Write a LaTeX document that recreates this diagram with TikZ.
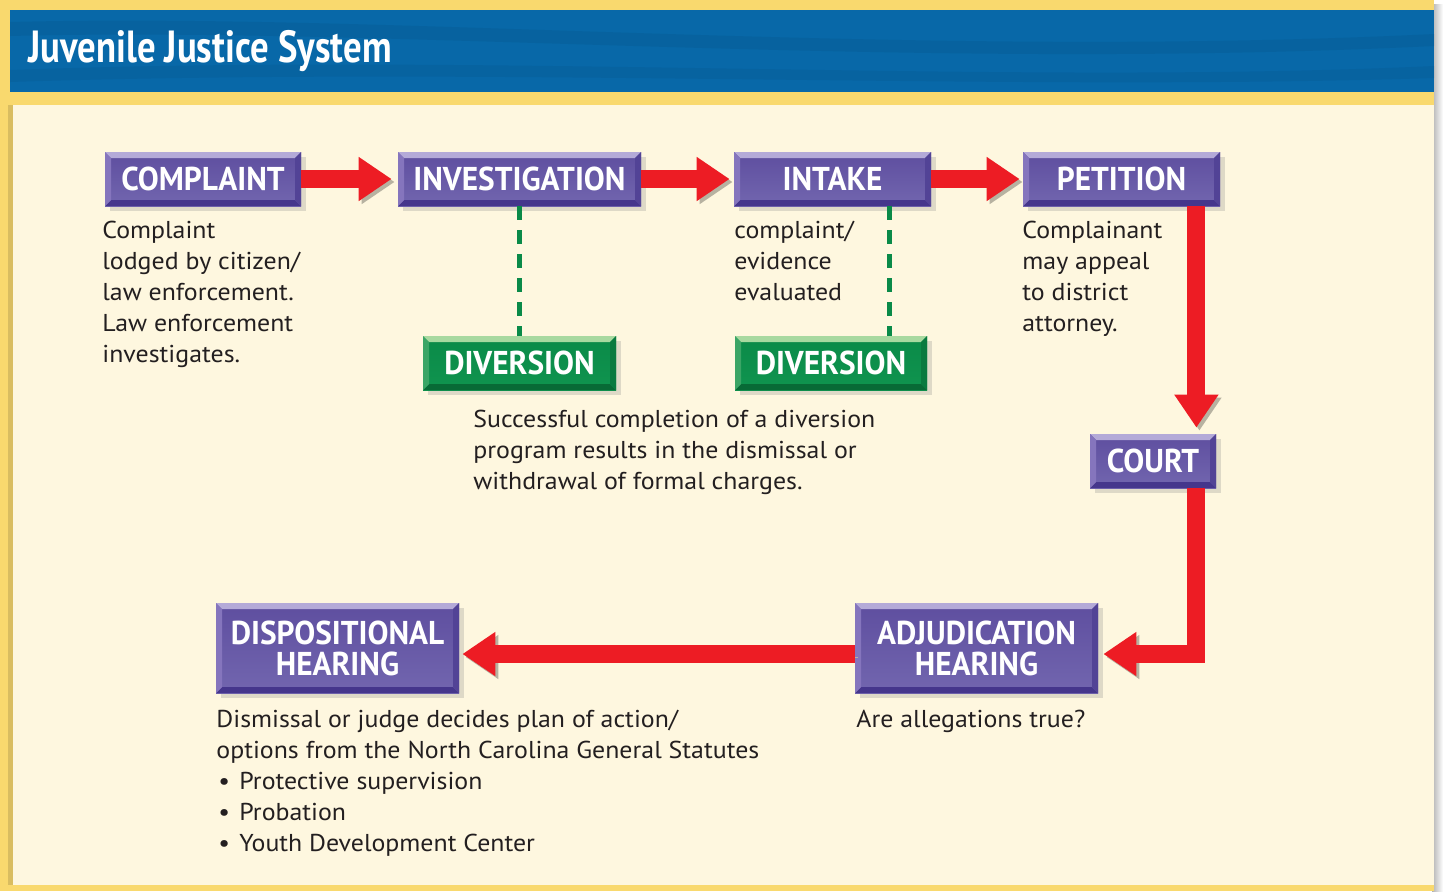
\documentclass[tikz,border=0pt]{standalone}
\usepackage{fontspec}
\usepackage{graphicx}
\setmainfont{PT Sans}
\newfontfamily\notefont{PT Sans}[FakeStretch=1.06]
\newfontfamily\boxfont{PT Sans}[FakeStretch=0.95]
\usetikzlibrary{arrows.meta}
\usetikzlibrary{shadows}

\definecolor{purpletop}{HTML}{5E4E9F}
\definecolor{purplebot}{HTML}{7266AF}
\definecolor{purplelight}{HTML}{B4AAD8}
\definecolor{purpledark}{HTML}{45368C}
\definecolor{purpleleft}{HTML}{8575BD}
\definecolor{purpleright}{HTML}{524396}
\definecolor{greentop}{HTML}{0A8A48}
\definecolor{greenbot}{HTML}{10944F}
\definecolor{greenlight}{HTML}{A8D9A0}
\definecolor{greendark}{HTML}{086A36}
\definecolor{greenleft}{HTML}{3BA566}
\definecolor{greenright}{HTML}{0A7A40}
\definecolor{arrowred}{HTML}{ED1C24}
\definecolor{headblue}{HTML}{0868A8}
\definecolor{paper}{HTML}{FEF7DF}
\definecolor{rim}{HTML}{F9D96E}
\definecolor{ink}{HTML}{231F20}

\newcommand{\drawbevel}[4]{%
  \path (path picture bounding box.north west) coordinate (bnw)
        (path picture bounding box.south east) coordinate (bse);
  \fill[#1] (bnw) -- (bnw-|bse) -- ([shift={(-3pt,-3pt)}]bnw-|bse) -- ([shift={(3pt,-3pt)}]bnw) -- cycle;
  \fill[#2] (bse) -- (bse-|bnw) -- ([shift={(3pt,3pt)}]bse-|bnw) -- ([shift={(-3pt,3pt)}]bse) -- cycle;
  \fill[#3] (bnw) -- (bse-|bnw) -- ([shift={(3pt,3pt)}]bse-|bnw) -- ([shift={(3pt,-3pt)}]bnw) -- cycle;
  \fill[#4] (bse) -- (bnw-|bse) -- ([shift={(-3pt,-3pt)}]bnw-|bse) -- ([shift={(-3pt,3pt)}]bse) -- cycle;
}

\tikzset{
  stage/.style={font=\boxfont\bfseries\fontsize{16.5}{17}\selectfont, text=white,
    align=center, inner sep=0pt, minimum height=27pt,
    top color=purpletop, bottom color=purplebot,
    drop shadow={shadow xshift=2.5pt, shadow yshift=-2.5pt, opacity=.25},
    path picture={\drawbevel{purplelight}{purpledark}{purpleleft}{purpleright}}},
  divbox/.style={stage, top color=greentop, bottom color=greenbot,
    path picture={\drawbevel{greenlight}{greendark}{greenleft}{greenright}}},
  flow/.style={draw=arrowred, line width=9pt,
    -{Triangle[length=16.5pt,width=21pt]},
    preaction={draw=paper!72!black, transform canvas={shift={(1.5pt,-1.5pt)}}}},
  branch/.style={draw=greentop, line width=2.5pt, dash pattern=on 7pt off 5pt},
  note/.style={anchor=north west, inner sep=0pt, align=left, text=ink,
    font=\notefont\fontsize{12.2}{15.45}\selectfont}
}

\begin{document}
\begin{tikzpicture}[x=0.5pt,y=-0.5pt]
        \useasboundingbox (0,0) rectangle (1443,891);

        % frame and header
        \fill[left color=black!30, right color=white] (1432,4) rectangle (1443,891);
        \fill[rim] (0,0) rectangle (1434,891);
        \fill[headblue] (10,10) rectangle (1434,92);
        \fill[headblue!85!black, opacity=.35] (10,22) .. controls (400,12) and (900,60) .. (1434,34)
          -- (1434,46) .. controls (900,72) and (400,26) .. (10,36) -- cycle;
        \fill[headblue!85!black, opacity=.3] (10,70) .. controls (500,52) and (1000,86) .. (1434,66)
          -- (1434,78) .. controls (1000,92) and (500,66) .. (10,82) -- cycle;
        \fill[rim!75!black, opacity=.5] (8,105) rectangle (13,885);
        \fill[paper] (13,105) rectangle (1434,885);
        \node[anchor=base west, inner sep=0pt, text=white,
          font=\bfseries\fontsize{22.5}{24}\selectfont] (title) at (28,62)
          {\scalebox{0.816}[1]{Juvenile Justice System}};

        % top row
        \node[stage, minimum width=98pt] (complaint) at (203,179) {COMPLAINT};
        \node[stage, minimum width=121.5pt] (investigation) at (519.5,179) {INVESTIGATION};
        \node[stage, minimum width=98.5pt] (intake) at (832.5,179) {INTAKE};
        \node[stage, minimum width=98.5pt] (petition) at (1121.5,179) {PETITION};

        \node[divbox, minimum width=96.5pt] (divinv) at (519.5,363) {DIVERSION};
        \node[divbox, minimum width=96pt] (divint) at (831,363) {DIVERSION};

        \node[stage, minimum width=63pt] (court) at (1153,461) {COURT};
        \node[stage, minimum width=121.5pt, minimum height=45pt] (adjud) at (976.5,648)
          {ADJUDICATION\\[-1.5pt]HEARING};
        \node[stage, minimum width=121.5pt, minimum height=45pt] (dispo) at (337.5,648)
          {DISPOSITIONAL\\[-1.5pt]HEARING};

        \draw[flow] (complaint.east) -- ([xshift=-3pt]investigation.west);
        \draw[flow] (investigation.east) -- ([xshift=-2pt]intake.west);
        \draw[flow] (intake.east) -- ([xshift=-1.5pt]petition.west);
        \draw[flow] ([xshift=-12pt]petition.south east) -- ([xshift=-10pt,yshift=3pt]court.north east);
        \draw[flow] ([xshift=-10pt]court.south east) |- ([xshift=2.5pt,yshift=-3pt]adjud.east);
        \draw[flow] ([yshift=-3pt]adjud.west) -- ([xshift=1.5pt,yshift=-3pt]dispo.east);

        \draw[branch] (investigation.south) -- (divinv.north);
        \draw[branch] ([xshift=28.25pt]intake.south) -- ([xshift=29pt]divint.north);

        % notes
        \node[note] (complaintnote) at (102,221) {Complaint\\lodged by citizen/\\law enforcement.\\Law enforcement\\investigates.};
        \node[note] (intakenote) at (734,221) {complaint/\\evidence\\evaluated};
        \node[note] (petitionnote) at (1022,221) {Complainant\\may appeal\\to district\\attorney.};
        \node[note] (divnote) at (473,410) {Successful completion of a diversion\\program results in the dismissal or\\withdrawal of formal charges.};
        \node[note] (dispnote) at (216,710) {Dismissal or judge decides plan of action/\\options from the North Carolina General Statutes\\
          \makebox[11.5pt][l]{\hspace{1pt}\textbullet}Protective supervision\\
          \makebox[11.5pt][l]{\hspace{1pt}\textbullet}Probation\\
          \makebox[11.5pt][l]{\hspace{1pt}\textbullet}Youth Development Center};
        \node[note] (adjnote) at (856,710) {Are allegations true?};
      \end{tikzpicture}
\end{document}
